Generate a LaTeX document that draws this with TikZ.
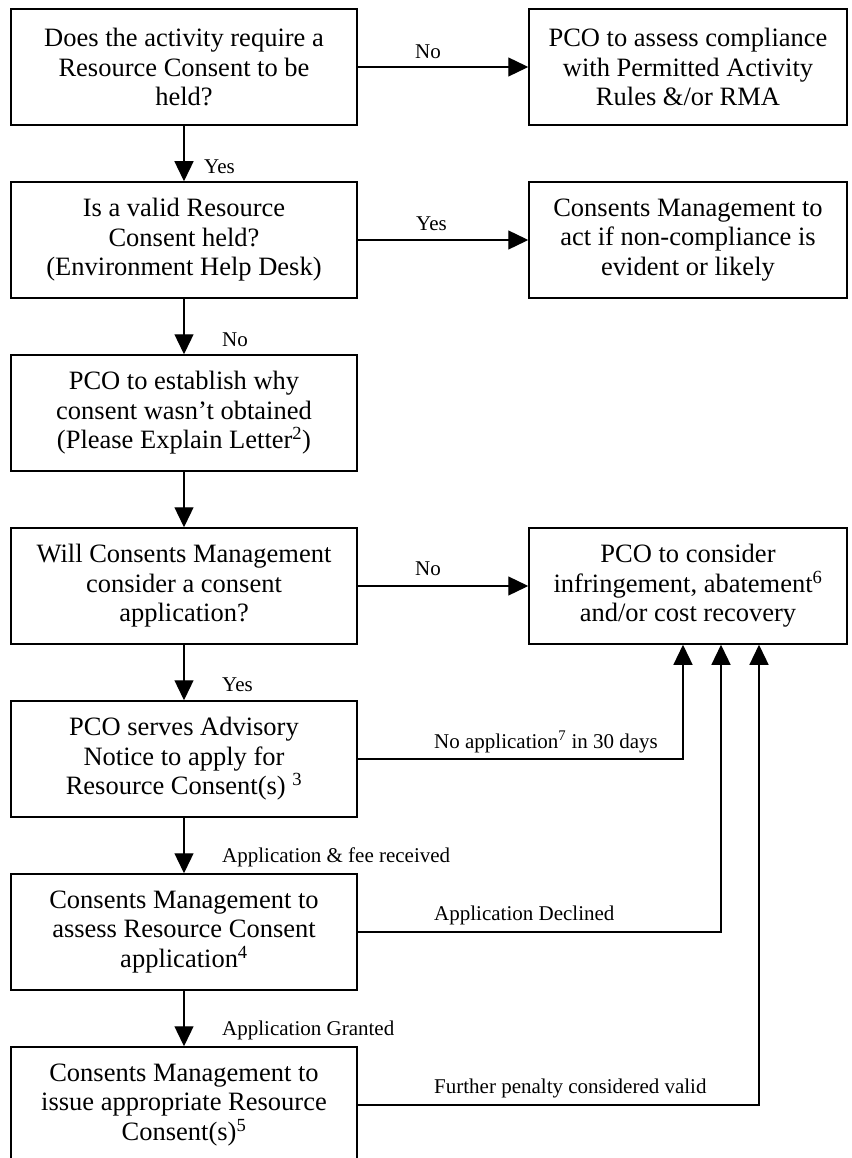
\documentclass[tikz,border=0pt]{standalone}
\usepackage{fontspec}
\setmainfont{Liberation Serif}
\usetikzlibrary{arrows.meta,positioning}

\begin{document}
\begin{tikzpicture}[x=1pt,y=-1pt,
  box/.style={draw=black, line width=1.5pt, minimum width=346pt, minimum height=116pt,
    inner sep=0pt, align=center, font=\fontsize{26.5}{29.5}\selectfont},
  rbox/.style={box, minimum width=318pt},
  flow/.style={black, line width=1.3pt, -{Triangle[length=20pt,width=19pt]}},
  lbl/.style={font=\fontsize{21}{24}\selectfont, inner sep=0pt, anchor=west}]
  \useasboundingbox (0,0) rectangle (851,1158);
  \clip (0,0) rectangle (851,1158);
  % left column
  \node[box] (q1) at (184,67) {Does the activity require a\\Resource Consent to be\\held?};
  \node[box] (q2) at (184,240) {Is a valid Resource\\Consent held?\\(Environment Help Desk)};
  \node[box] (q3) at (184,413) {PCO to establish why\\consent wasn't obtained\\(Please Explain Letter\textsuperscript{2})};
  \node[box] (q4) at (184,586) {Will Consents Management\\consider a consent\\application?};
  \node[box] (q5) at (184,759) {PCO serves Advisory\\Notice to apply for\\Resource Consent(s) \textsuperscript{3}};
  \node[box] (q6) at (184,932) {Consents Management to\\assess Resource Consent\\application\textsuperscript{4}};
  \node[box] (q7) at (184,1105) {Consents Management to\\issue appropriate Resource\\Consent(s)\textsuperscript{5}};
  % right column
  \node[rbox] (r1) at (688,67) {PCO to assess compliance\\with Permitted Activity\\Rules \&/or RMA};
  \node[rbox] (r2) at (688,240) {Consents Management to\\act if non-compliance is\\evident or likely};
  \node[rbox] (r3) at (688,586) {PCO to consider\\infringement, abatement\textsuperscript{6}\\and/or cost recovery};
  % down arrows
  \draw[flow] (q1) -- (q2);
  \draw[flow] (q2) -- (q3);
  \draw[flow] (q3) -- (q4);
  \draw[flow] (q4) -- (q5);
  \draw[flow] (q5) -- (q6);
  \draw[flow] (q6) -- (q7);
  % side arrows
  \draw[flow] (q1) -- (r1);
  \draw[flow] (q2) -- (r2);
  \draw[flow] (q4) -- (r3);
  \draw[flow] (q5.east) -| ([xshift=-5pt]r3.south);
  \draw[flow] (q6.east) -| ([xshift=33pt]r3.south);
  \draw[flow] (q7.east) -| ([xshift=71pt]r3.south);
  % labels
  \node[lbl] (l1) at (415,52) {No};
  \node[lbl] (l2) at (204,167) {Yes};
  \node[lbl] (l3) at (416,224) {Yes};
  \node[lbl] (l4) at (222,340) {No};
  \node[lbl] (l5) at (415,569) {No};
  \node[lbl] (l6) at (222,685) {Yes};
  \node[lbl] (l7) at (434,742) {No application\textsuperscript{7} in 30 days};
  \node[lbl] (l8) at (222,857) {Application \& fee received};
  \node[lbl] (l9) at (434,915) {Application Declined};
  \node[lbl] (l10) at (222,1030) {Application Granted};
  \node[lbl] (l11) at (434,1088) {Further penalty considered valid};
\end{tikzpicture}
\end{document}
